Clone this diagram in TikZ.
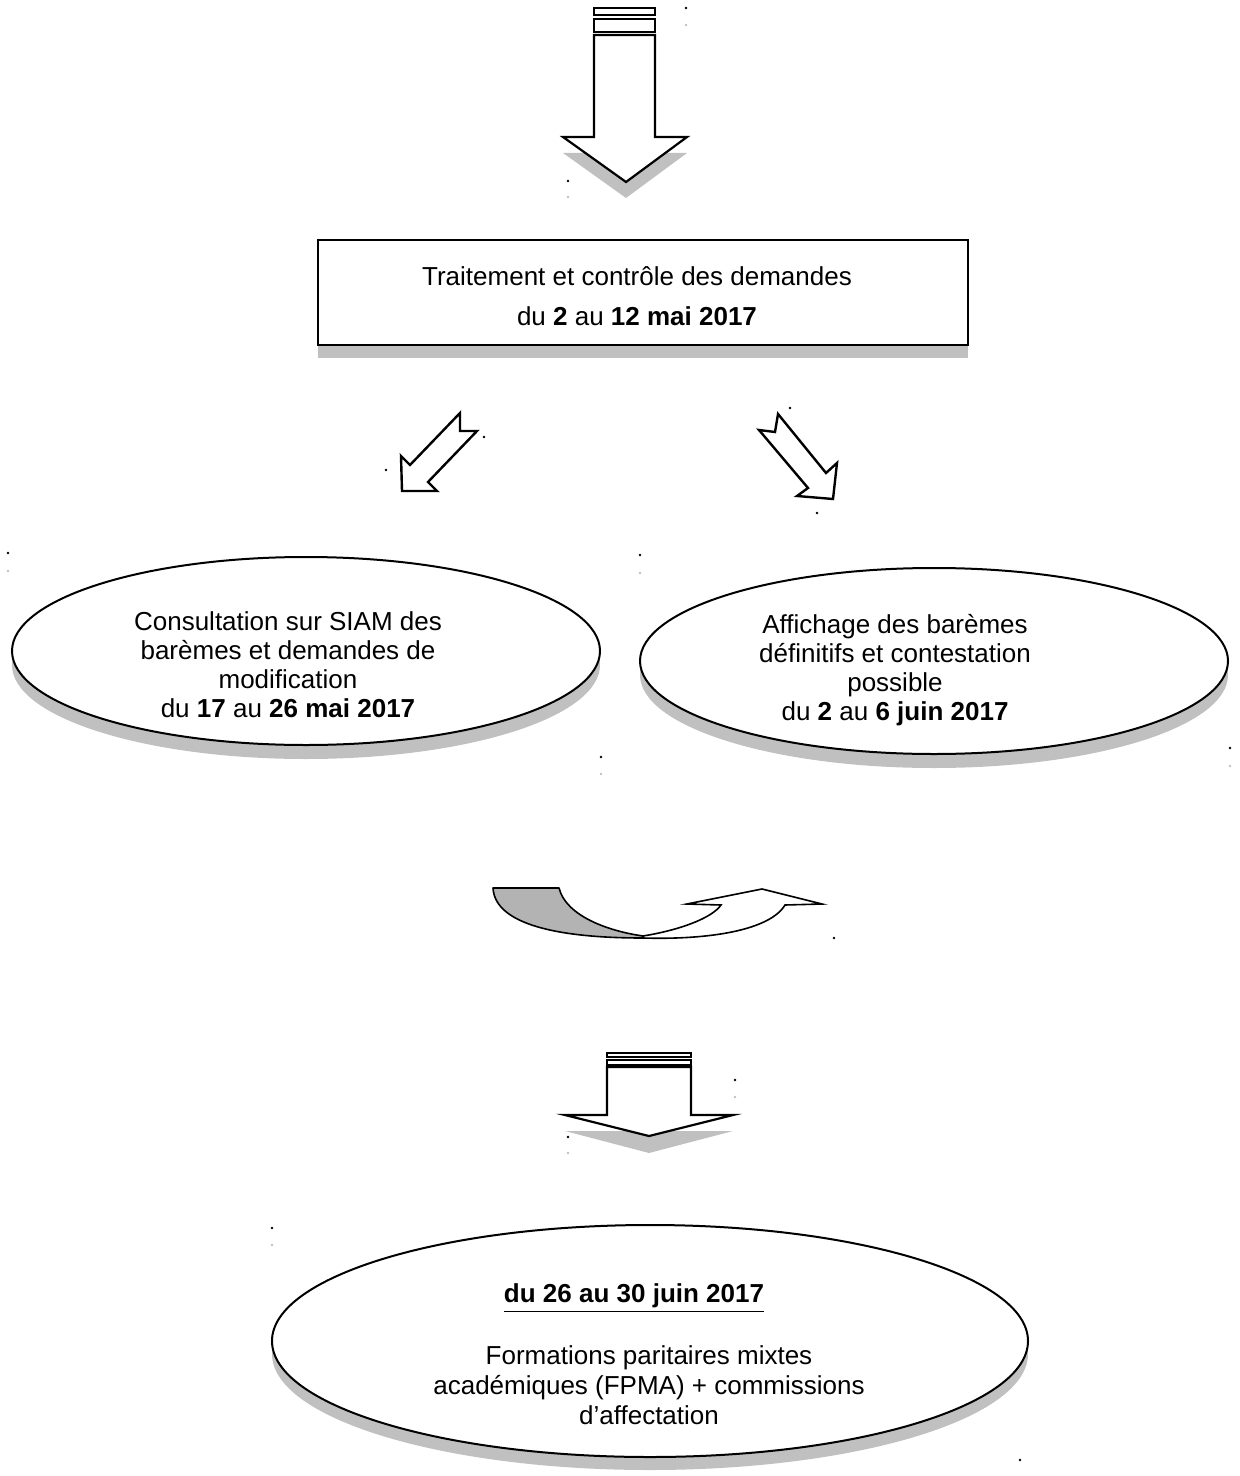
\documentclass[tikz,border=0pt]{standalone}
\usepackage{fontspec}
\setmainfont{Liberation Sans}
\usetikzlibrary{shapes.geometric}
\definecolor{shadowgray}{HTML}{C0C0C0}
\definecolor{curvegray}{HTML}{B3B3B3}
\tikzset{
  ellnode/.style={ellipse, draw=black, line width=1pt, fill=white, inner sep=0pt},
  ellshadow/.style={ellipse, fill=shadowgray, draw=none, inner sep=0pt},
  boxnode/.style={rectangle, draw=black, line width=1pt, fill=white, inner sep=0pt},
  boxshadow/.style={rectangle, fill=shadowgray, draw=none, inner sep=0pt},
  txt/.style={inner sep=0pt, align=center, font=\fontsize{13pt}{14.5pt}\selectfont},
  blockarrow/.style={draw=black, line width=1.1pt, fill=white, line join=miter},
  headshadow/.style={fill=shadowgray, draw=none},
  dot/.style={fill=black, draw=none},
  greydot/.style={fill=shadowgray, draw=none}
}
\begin{document}
\begin{tikzpicture}[x=0.5pt,y=-0.5pt]
\useasboundingbox (0,0) rectangle (1239,1476);

% ---------- top arrow ----------
\fill[headshadow] (563,153) -- (687,153) -- (626,198) -- cycle;
\draw[blockarrow] (594,8) rectangle (655,15);
\draw[blockarrow] (594,19) rectangle (655,32);
\draw[blockarrow] (594,35) -- (655,35) -- (655,137) -- (687,137) -- (626,182) -- (563,137) -- (594,137) -- cycle;

% ---------- box ----------
\node[boxshadow, minimum width=325pt, minimum height=52.5pt] (boxs) at (643,305.5) {};
\node[boxnode, minimum width=325pt, minimum height=52.5pt] (box) at (643,292.5) {};
\node[txt, font=\fontsize{13pt}{20pt}\selectfont] (boxtxt) at (637,296)
  {Traitement et contrôle des demandes\\du \textbf{2} au \textbf{12 mai 2017}};

% ---------- small diagonal arrows ----------
\draw[blockarrow, line width=1.2pt] (460,413) -- (410,465) -- (401,456) -- (402,491) -- (437,491) -- (428,482) -- (477,431) -- (460,431) -- cycle;
\draw[blockarrow, line width=1.2pt] (778,414) -- (775,432) -- (759,430) -- (808,488) -- (797,496) -- (833,499) -- (837,463) -- (826,473) -- cycle;

% ---------- left ellipse ----------
\node[ellshadow, minimum width=294pt, minimum height=94pt] (e1s) at (306,665) {};
\node[ellnode, minimum width=294pt, minimum height=94pt] (e1) at (306,651) {};
\node[txt] (e1txt) at (288,665)
  {Consultation sur SIAM des\\barèmes et demandes de\\modification\\du \textbf{17} au \textbf{26 mai 2017}};

% ---------- right ellipse ----------
\node[ellshadow, minimum width=294pt, minimum height=93pt] (e2s) at (934,675) {};
\node[ellnode, minimum width=294pt, minimum height=93pt] (e2) at (934,661) {};
\node[txt] (e2txt) at (895,670)
  {Affichage des barèmes\\définitifs et contestation\\possible\\du \textbf{2} au \textbf{6 juin 2017}};

% ---------- curved arrow ----------
\draw[fill=curvegray, line width=0.8pt, line join=round]
  (493,888) -- (559,888) .. controls (566,916) and (608,931) .. (643,936)
  -- (643,938) .. controls (560,938) and (495,925) .. (493,888) -- cycle;
\draw[fill=white, line width=0.8pt, line join=miter]
  (643,936) .. controls (680,930) and (712,918) .. (721,905)
  -- (687,904) -- (762,889) -- (822,904) -- (785,905)
  .. controls (770,930) and (710,940) .. (643,938) -- cycle;

% ---------- lower arrow ----------
\fill[headshadow] (565,1131) -- (733,1131) -- (649,1153) -- cycle;
\draw[blockarrow] (607,1053) rectangle (691,1057);
\draw[blockarrow] (607,1060) rectangle (691,1065);
\draw[blockarrow] (607,1067) -- (691,1067) -- (691,1115) -- (733,1115) -- (649,1136) -- (565,1115) -- (607,1115) -- cycle;

% ---------- bottom ellipse ----------
\node[ellshadow, minimum width=378pt, minimum height=116pt] (e3s) at (650,1354) {};
\node[ellnode, minimum width=378pt, minimum height=116pt] (e3) at (650,1341) {};
\node[txt, font=\fontsize{13pt}{15pt}\selectfont] (e3date) at (634,1298)
  {\underline{\textbf{du 26 au 30 juin 2017}}};
\node[txt, font=\fontsize{13pt}{15pt}\selectfont] (e3txt) at (649,1385)
  {Formations paritaires mixtes\\académiques (FPMA) + commissions\\d’affectation};

% ---------- stray anchor dots ----------
\foreach \p in {(686,8),(568,181),(484,437),(386,470),(790,408),(817,513),(8,553),(640,555),(601,757),(1230,748),(834,938),(735,1080),(568,1137),(272,1228),(1020,1460)}
  \fill[dot] \p circle[radius=1.3];
\foreach \p in {(686,25),(568,197),(8,571),(640,573),(601,774),(1230,766),(735,1097),(568,1153),(272,1245)}
  \fill[greydot] \p circle[radius=1.3];
\end{tikzpicture}
\end{document}
